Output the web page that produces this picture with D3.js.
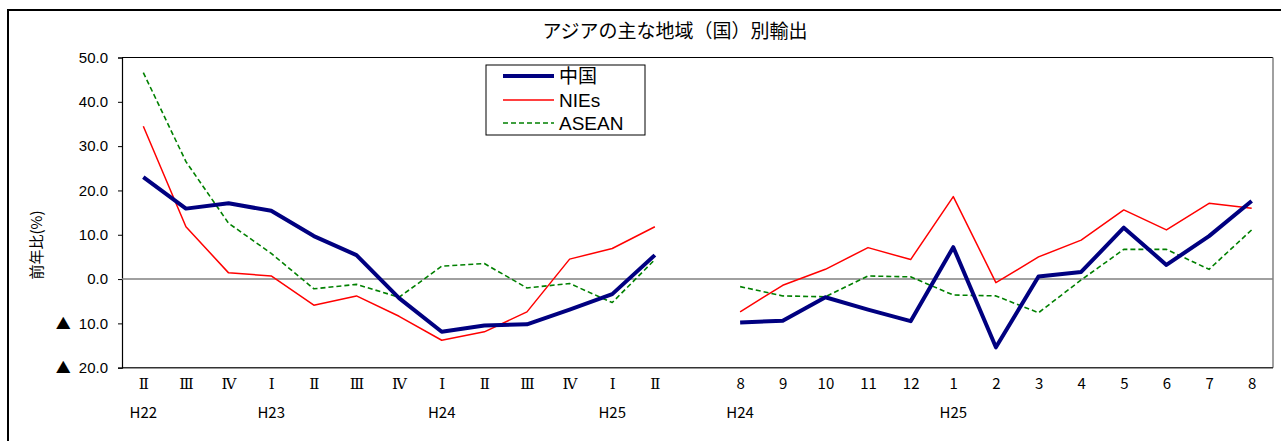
<!DOCTYPE html>
<html><head><meta charset="utf-8">
<script src="https://cdn.jsdelivr.net/npm/d3@7"></script>
<style>
html,body{margin:0;padding:0;background:#fff;}
svg{display:block;}
</style></head>
<body>
<svg id="chart" width="1281" height="441"></svg>
<script>
// ---- data ----
const categories = ["Ⅱ","Ⅲ","Ⅳ","Ⅰ","Ⅱ","Ⅲ","Ⅳ","Ⅰ","Ⅱ","Ⅲ","Ⅳ","Ⅰ","Ⅱ","",
                    "8","9","10","11","12","1","2","3","4","5","6","7","8"];
const yearLabels = ["H22","","","H23","","","","H24","","","","H25","","",
                    "H24","","","","","H25","","","","","","",""];
const china = [23.0,15.9,17.1,15.4,9.7,5.4,-4.3,-11.9,-10.5,-10.2,-6.9,-3.4,5.4,null,
               -9.8,-9.4,-4.1,-6.9,-9.5,7.2,-15.4,0.6,1.6,11.6,3.2,9.7,17.6];
const nies = [34.5,11.8,1.4,0.7,-5.9,-3.8,-8.4,-13.8,-11.9,-7.4,4.5,6.9,11.8,null,
              -7.4,-1.4,2.2,7.1,4.4,18.6,-0.8,5.0,8.8,15.6,11.1,17.1,16.0];
const asean = [46.6,26.5,12.6,5.8,-2.2,-1.2,-4.1,2.9,3.5,-2.0,-1.0,-5.3,4.4,null,
               -1.7,-3.8,-4.0,0.7,0.5,-3.6,-3.8,-7.6,-0.2,6.7,6.7,2.2,11.1];
const yTicks = [50,40,30,20,10,0,-10,-20];
const seriesNames = ["中国","NIEs","ASEAN"];

// ---- layout ----
const svg = d3.select("#chart");
const L = 122, R = 1273, T = 57.5, B = 367.7;
const jp = "'Noto Sans CJK JP','Noto Sans',sans-serif";
const num = "'Liberation Sans',Arial,sans-serif";
const roman = "'DejaVu Serif','Noto Sans CJK JP',serif";

// outer frame
svg.append("rect").attr("x",8).attr("y",10).attr("width",1300).attr("height",460)
  .attr("fill","none").attr("stroke","#000").attr("stroke-width",2);

const x = d3.scalePoint().domain(d3.range(categories.length)).range([L,R]).padding(0.5);
const y = d3.scaleLinear().domain([-20,50]).range([B,T]);

// title
svg.append("text").attr("x",675).attr("y",38).attr("text-anchor","middle")
  .attr("font-family",jp).attr("font-size",19).attr("fill","#000")
  .text("アジアの主な地域（国）別輸出");

// y axis label
svg.append("text").attr("transform","translate(42,245) rotate(-90)")
  .attr("text-anchor","middle").attr("font-family",jp).attr("font-size",15)
  .text("前年比(%)");

// plot frame
svg.append("line").attr("x1",L).attr("x2",R).attr("y1",T).attr("y2",T).attr("stroke","#000").attr("stroke-width",1.2);
svg.append("line").attr("x1",R).attr("x2",R).attr("y1",T).attr("y2",B).attr("stroke","#808080").attr("stroke-width",1.5);
svg.append("line").attr("x1",L).attr("x2",R).attr("y1",B).attr("y2",B).attr("stroke","#333").attr("stroke-width",1.5);

// y axis
const yAxis = d3.axisLeft(y).tickValues(yTicks).tickSize(4).tickPadding(10).tickFormat(() => "");
const ya = svg.append("g").attr("transform",`translate(${L},0)`).call(yAxis);
ya.select(".domain").attr("stroke","#000").attr("stroke-width",1.2);
ya.selectAll(".tick line").attr("stroke","#000");
ya.selectAll(".tick text").each(function(v){
  const t = d3.select(this).attr("font-family",num).attr("font-size",15).attr("fill","#000");
  if (v < 0) {
    t.append("tspan").attr("font-family",jp).attr("font-size",15).text("▲");
    t.append("tspan").attr("dx",8).text(Math.abs(v).toFixed(1));
  } else {
    t.text(v.toFixed(1));
  }
});

// zero line
svg.append("line").attr("x1",L).attr("x2",R).attr("y1",y(0)).attr("y2",y(0))
  .attr("stroke","#808080").attr("stroke-width",1.5);

// x axis labels
const xAxis = d3.axisBottom(x).tickSize(0).tickPadding(11).tickFormat(i => categories[i]);
const xa = svg.append("g").attr("transform",`translate(0,${B})`).call(xAxis);
xa.select(".domain").remove();
xa.selectAll(".tick text")
  .attr("font-family", i => i < 13 ? roman : jp)
  .attr("font-size",15).attr("fill","#000");
svg.append("g").selectAll("text").data(d3.range(yearLabels.length).filter(i => yearLabels[i]))
  .join("text").attr("x",i => x(i)).attr("y",B+50).attr("text-anchor","middle")
  .attr("font-family",jp).attr("font-size",15).attr("fill","#000").text(i => yearLabels[i]);

// lines
const line = d3.line().defined(d => d[1] !== null).x(d => x(d[0])).y(d => y(d[1]));
const styles = [
  {data: china, color:"#000080", width:4, dash:null},
  {data: nies, color:"#ff0000", width:1.5, dash:null},
  {data: asean, color:"#008000", width:1.6, dash:"5,3"}
];
[2,1,0].forEach(k => {
  const s = styles[k];
  svg.append("path").datum(s.data.map((v,i)=>[i,v]))
    .attr("d", line).attr("fill","none").attr("stroke",s.color)
    .attr("stroke-width",s.width).attr("stroke-dasharray",s.dash)
    .attr("stroke-linejoin","round");
});

// legend
const lg = svg.append("g");
lg.append("rect").attr("x",486).attr("y",65).attr("width",159).attr("height",70)
  .attr("fill","#fff").attr("stroke","#000").attr("stroke-width",1);
const ly = [76,100,123];
seriesNames.forEach((n,k) => {
  const s = styles[k];
  lg.append("line").attr("x1",503).attr("x2",554).attr("y1",ly[k]).attr("y2",ly[k])
    .attr("stroke",s.color).attr("stroke-width",s.width).attr("stroke-dasharray",s.dash);
  lg.append("text").attr("x",559).attr("y",ly[k]).attr("dy","0.36em")
    .attr("font-family", k===0 ? jp : num).attr("font-size",19).attr("fill","#000").text(n);
});
</script>
</body></html>
